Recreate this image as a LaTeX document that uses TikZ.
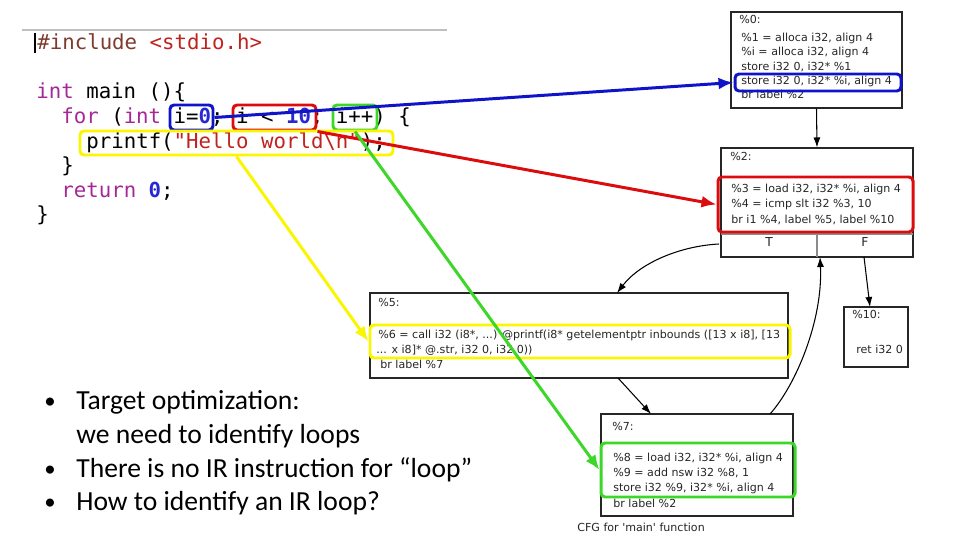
\documentclass[tikz,border=0pt]{standalone}
\usepackage{fontspec}
\setmainfont{Carlito}
\newfontfamily\codefont{DejaVu Sans Mono}[Ligatures=TeXOff]
\newfontfamily\irfont{DejaVu Sans}[Ligatures=TeXOff]
\definecolor{codepre}{RGB}{125, 60, 45}
\definecolor{codestr}{RGB}{190, 35, 30}
\definecolor{codekw}{RGB}{165, 40, 150}
\definecolor{codenum}{RGB}{40, 40, 210}
\definecolor{hlblue}{RGB}{15, 20, 200}
\definecolor{hlred}{RGB}{220, 12, 12}
\definecolor{hlgreen}{RGB}{60, 215, 40}
\definecolor{hlyellow}{RGB}{250, 245, 0}
\usetikzlibrary{arrows.meta, positioning, fit}
\tikzset{
	code/.style={anchor=base west, inner sep=0pt, font=\codefont\fontsize{11.8pt}{14pt}\selectfont},
	irtext/.style={anchor=base west, inner sep=0pt, text=black!85, font=\irfont\fontsize{6.3pt}{8pt}\selectfont},
	porttext/.style={anchor=base, inner sep=0pt, text=black!85, font=\irfont\fontsize{7pt}{8pt}\selectfont},
	bullettext/.style={anchor=base west, inner sep=0pt, font=\fontsize{15.7pt}{18pt}\selectfont},
	bulletdot/.style={anchor=base west, inner sep=0pt, font=\fontsize{13pt}{15pt}\selectfont},
	cfgbox/.style={rectangle, draw=black!85, line width=0.6pt, inner sep=0pt},
	hlbox/.style={rectangle, draw=#1, line width=1.7pt, rounded corners=2.3pt, inner sep=0pt},
	hlarrow/.style={draw=#1, line width=1.7pt, -{Latex[length=3mm, width=2.4mm]}},
	cfgarrow/.style={draw=black, line width=0.6pt, -{Latex[length=2mm, width=1.4mm]}},
}
\begin{document}
\begin{tikzpicture}[x=0.02cm, y=-0.02cm]
		\useasboundingbox (0,0) rectangle (960,540);
		\draw[black!25, line width=1.2pt] (22,30) -- (447,30);
		\draw[black, line width=0.9pt] (35,33) -- (35,53);
		\node[code] (ln1) at (37,50) {\textcolor{codepre}{\#include} \textcolor{codestr}{<stdio.h>}};
		\node[code] (ln2) at (36,99) {\textcolor{codekw}{int} main ()\{};
		\node[code] (ln3) at (61,124) {\textcolor{codekw}{for} (\textcolor{codekw}{int} i=\textcolor{codenum}{\bfseries 0}; i < \textcolor{codenum}{\bfseries 10}; i++) \{};
		\node[code] (ln4) at (86,149) {printf(\textcolor{codestr}{"Hello world\textbackslash n"});};
		\node[code] (ln5) at (61,173) {\}};
		\node[code] (ln6) at (61,198) {\textcolor{codekw}{return} \textcolor{codenum}{\bfseries 0};};
		\node[code] (ln7) at (36,222) {\}};
		\node[cfgbox, fit={(731,12) (902,108)}] (b0) {};
		\node[cfgbox, fit={(721,148) (913,257)}] (b2) {};
		\node[cfgbox, fit={(370,293) (788,378)}] (b5) {};
		\node[cfgbox, fit={(844,307) (908,367)}] (b10) {};
		\node[cfgbox, fit={(601,414) (793,516)}] (b7) {};
		\draw[black!45, line width=0.6pt] (721,234) -- (913,234);
		\draw[black!45, line width=0.6pt] (817,234) -- (817,257);
		\node[irtext] (b0t) at (739,24) {\%0:};
		\node[irtext] (b0a) at (741,42) {\%1 = alloca i32, align 4};
		\node[irtext] (b0b) at (741,56) {\%i = alloca i32, align 4};
		\node[irtext] (b0c) at (741,71) {store i32 0, i32* \%1};
		\node[irtext] (b0d) at (741,85) {store i32 0, i32* \%i, align 4};
		\node[irtext] (b0e) at (741,99) {br label \%2};
		\node[irtext] (b2t) at (730,161) {\%2:};
		\node[irtext] (b2a) at (731,193) {\%3 = load i32, i32* \%i, align 4};
		\node[irtext] (b2b) at (731,208) {\%4 = icmp slt i32 \%3, 10};
		\node[irtext] (b2c) at (731,224) {br i1 \%4, label \%5, label \%10};
		\node[porttext] (pT) at (769,247) {T};
		\node[porttext] (pF) at (865,247) {F};
		\node[irtext] (b5t) at (378,307) {\%5:};
		\node[irtext] (b5a) at (378,339) {\%6 = call i32 (i8*, ...) @printf(i8* getelementptr inbounds ([13 x i8], [13};
		\node[irtext] (b5b) at (376,354) {... x i8]* @.str, i32 0, i32 0))};
		\node[irtext] (b5c) at (380,369) {br label \%7};
		\node[irtext] (b10t) at (852,319) {\%10:};
		\node[irtext] (b10a) at (856,354) {ret i32 0};
		\node[irtext] (b7t) at (612,430) {\%7:};
		\node[irtext] (b7a) at (613,461) {\%8 = load i32, i32* \%i, align 4};
		\node[irtext] (b7b) at (613,476) {\%9 = add nsw i32 \%8, 1};
		\node[irtext] (b7c) at (613,491) {store i32 \%9, i32* \%i, align 4};
		\node[irtext] (b7d) at (613,507) {br label \%2};
		\node[irtext] (cap) at (577,531) {CFG for 'main' function};
		\coordinate (tOut) at (719,244);
		\coordinate (b5in) at (617,293);
		\coordinate (fOut) at (864,257);
		\coordinate (b10in) at (870,307);
		\coordinate (b5out) at (618,378);
		\coordinate (b7in) at (651,414);
		\coordinate (b7out) at (770,414);
		\coordinate (b2in) at (820,257);
		\draw[cfgarrow] (b0.south) -- (b2.north);
		\draw[cfgarrow] (tOut) .. controls (680,246) and (640,263) .. (b5in);
		\draw[cfgarrow] (fOut) -- (b10in);
		\draw[cfgarrow] (b5out) -- (b7in);
		\draw[cfgarrow] (b7out) .. controls (796,385) and (823,320) .. (b2in);
		\node[hlbox=hlblue, fit={(170,105) (213,130)}] (cInit) {};
		\node[hlbox=hlred, fit={(233,105) (316,130)}] (cCond) {};
		\node[hlbox=hlgreen, fit={(333,105) (377,130)}] (cInc) {};
		\node[hlbox=hlyellow, fit={(80,131) (393,155)}] (cCall) {};
		\node[hlbox=hlblue, fit={(735,74) (901,91)}] (irInit) {};
		\node[hlbox=hlred, fit={(718,177) (913,232)}] (irCond) {};
		\node[hlbox=hlyellow, fit={(370,325) (790,358)}] (irCall) {};
		\node[hlbox=hlgreen, fit={(601,443) (795,497)}] (irInc) {};
		\draw[hlarrow=hlblue] (cInit.east) -- (irInit.west);
		\draw[hlarrow=hlred] (cCond.south east) -- (irCond.west);
		\draw[hlarrow=hlgreen] (cInc.south) -- (irInc.west);
		\draw[hlarrow=hlyellow] (cCall.south) -- (irCall.west);
		\node[bulletdot] (dot1) at (44,409) {•};
		\node[bullettext] (it1) at (76,410) {Target optimization:};
		\node[bullettext] (it1b) at (76,443) {we need to identify loops};
		\node[bulletdot] (dot2) at (44,476) {•};
		\node[bullettext] (it2) at (76,477) {There is no IR instruction for “loop”};
		\node[bulletdot] (dot3) at (44,509) {•};
		\node[bullettext] (it3) at (76,510) {How to identify an IR loop?};
	\end{tikzpicture}
\end{document}
